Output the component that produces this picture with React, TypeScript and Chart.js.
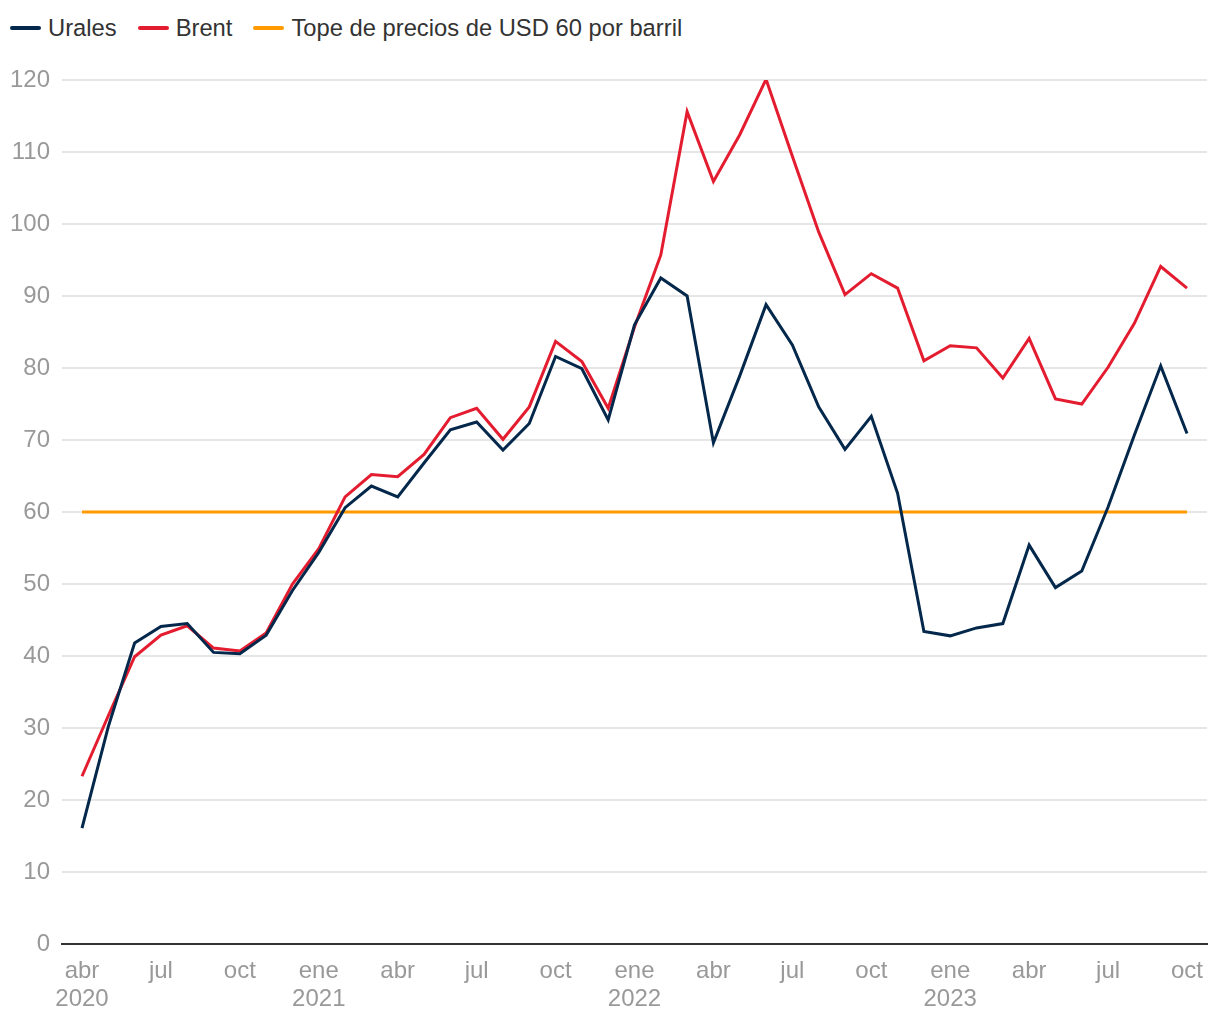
import React, { useEffect, useRef } from "react";
import { Chart, registerables } from "chart.js";

Chart.register(...registerables);

// Monthly, abr 2020 .. oct 2023 (43 months)
const urales = [
  16.1, 30.2, 41.8, 44.1, 44.5, 40.5, 40.3, 42.9, 49.1, 54.4, 60.6, 63.6, 62.1,
  66.8, 71.4, 72.5, 68.6, 72.3, 81.6, 79.9, 72.8, 86.0, 92.5, 90.0, 69.6, 78.9,
  88.8, 83.2, 74.6, 68.7, 73.3, 62.6, 43.4, 42.8, 43.9, 44.5, 55.4, 49.5, 51.8,
  60.7, 70.7, 80.3, 70.9,
];
const brent = [
  23.3, 31.7, 39.9, 42.9, 44.2, 41.1, 40.7, 43.2, 50.0, 54.9, 62.1, 65.2, 64.9,
  68.0, 73.1, 74.4, 70.1, 74.6, 83.7, 80.9, 74.4, 85.7, 95.7, 115.6, 105.9,
  112.4, 120.1, 109.4, 98.9, 90.2, 93.1, 91.1, 81.0, 83.1, 82.8, 78.6, 84.1,
  75.7, 75.0, 80.1, 86.2, 94.1, 91.1,
];
const priceCap = 60;
const capRange = [0, 42];

// x tick positions (month index) and their labels
const tickPositions = [0, 3, 6, 9, 12, 15, 18, 21, 24, 27, 30, 33, 36, 39, 42];
const tickMonths = ["abr", "jul", "oct", "ene", "abr", "jul", "oct", "ene", "abr", "jul", "oct", "ene", "abr", "jul", "oct"];
const tickYears = ["2020", "", "", "2021", "", "", "", "2022", "", "", "", "2023", "", "", ""];

const seriesNames = ["Urales", "Brent", "Tope de precios de USD 60 por barril"];
const seriesColors = ["#04284b", "#e41c2f", "#ff9a00"];

const FONT = "'Liberation Sans', Arial, Helvetica, sans-serif";

export default function App() {
  const canvasRef = useRef<HTMLCanvasElement | null>(null);

  useEffect(() => {
    const ctx = canvasRef.current;
    if (!ctx) return;
    const chart = new Chart(ctx, {
      type: "line",
      data: {
        datasets: [
          {
            label: seriesNames[0],
            data: urales.map((v, i) => ({ x: i, y: v })),
            borderColor: seriesColors[0],
            backgroundColor: seriesColors[0],
            borderWidth: 3,
            pointRadius: 0,
            tension: 0,
          },
          {
            label: seriesNames[1],
            data: brent.map((v, i) => ({ x: i, y: v })),
            borderColor: seriesColors[1],
            backgroundColor: seriesColors[1],
            borderWidth: 3,
            pointRadius: 0,
            tension: 0,
          },
          {
            label: seriesNames[2],
            data: capRange.map((x) => ({ x, y: priceCap })),
            borderColor: seriesColors[2],
            backgroundColor: seriesColors[2],
            borderWidth: 3,
            pointRadius: 0,
            tension: 0,
          },
        ],
      },
      options: {
        animation: false,
        responsive: false,
        maintainAspectRatio: false,
        layout: { padding: { top: 80, right: 13, left: 0, bottom: 0 } },
        plugins: {
          legend: { display: false },
          tooltip: { enabled: false },
        },
        scales: {
          x: {
            type: "linear",
            min: -0.76,
            max: 42.76,
            afterBuildTicks: (scale: any) => {
              scale.ticks = tickPositions.map((v) => ({ value: v }));
            },
            afterFit: (scale: any) => {
              scale.height = 76;
            },
            grid: { display: false },
            border: { display: true, color: "#333333", width: 2 },
            ticks: {
              autoSkip: false,
              maxRotation: 0,
              padding: 5,
              color: "#999999",
              font: { family: FONT, size: 24, lineHeight: 1.17 },
              callback: (value: any) => {
                const i = tickPositions.indexOf(Number(value));
                if (i < 0) return "";
                return tickYears[i] ? [tickMonths[i], tickYears[i]] : tickMonths[i];
              },
            },
          },
          y: {
            min: 0,
            max: 120,
            afterFit: (scale: any) => {
              scale.width = 62;
            },
            grid: { color: "#e6e6e6", lineWidth: 2, drawTicks: false },
            border: { display: false },
            ticks: {
              stepSize: 10,
              padding: 12,
              color: "#999999",
              font: { family: FONT, size: 24 },
            },
          },
        },
      },
    });
    return () => chart.destroy();
  }, []);

  return (
    <div style={{ position: "absolute", left: 0, top: 0, width: 1220, height: 1020, background: "#ffffff" }}>
      <div
        style={{
          position: "absolute",
          left: 10,
          top: 13,
          display: "flex",
          alignItems: "center",
          fontFamily: FONT,
          fontSize: 23.75,
          color: "#333333",
          lineHeight: "30px",
          whiteSpace: "nowrap",
        }}
      >
        {seriesNames.map((name, i) => (
          <span key={name} style={{ display: "flex", alignItems: "center", marginRight: 21 }}>
            <span
              style={{
                display: "inline-block",
                width: 31,
                height: 4,
                borderRadius: 2,
                background: seriesColors[i],
                marginRight: 7,
              }}
            />
            <span>{name}</span>
          </span>
        ))}
      </div>
      <canvas ref={canvasRef} width={1220} height={1020} style={{ position: "absolute", left: 0, top: 0 }} />
    </div>
  );
}
